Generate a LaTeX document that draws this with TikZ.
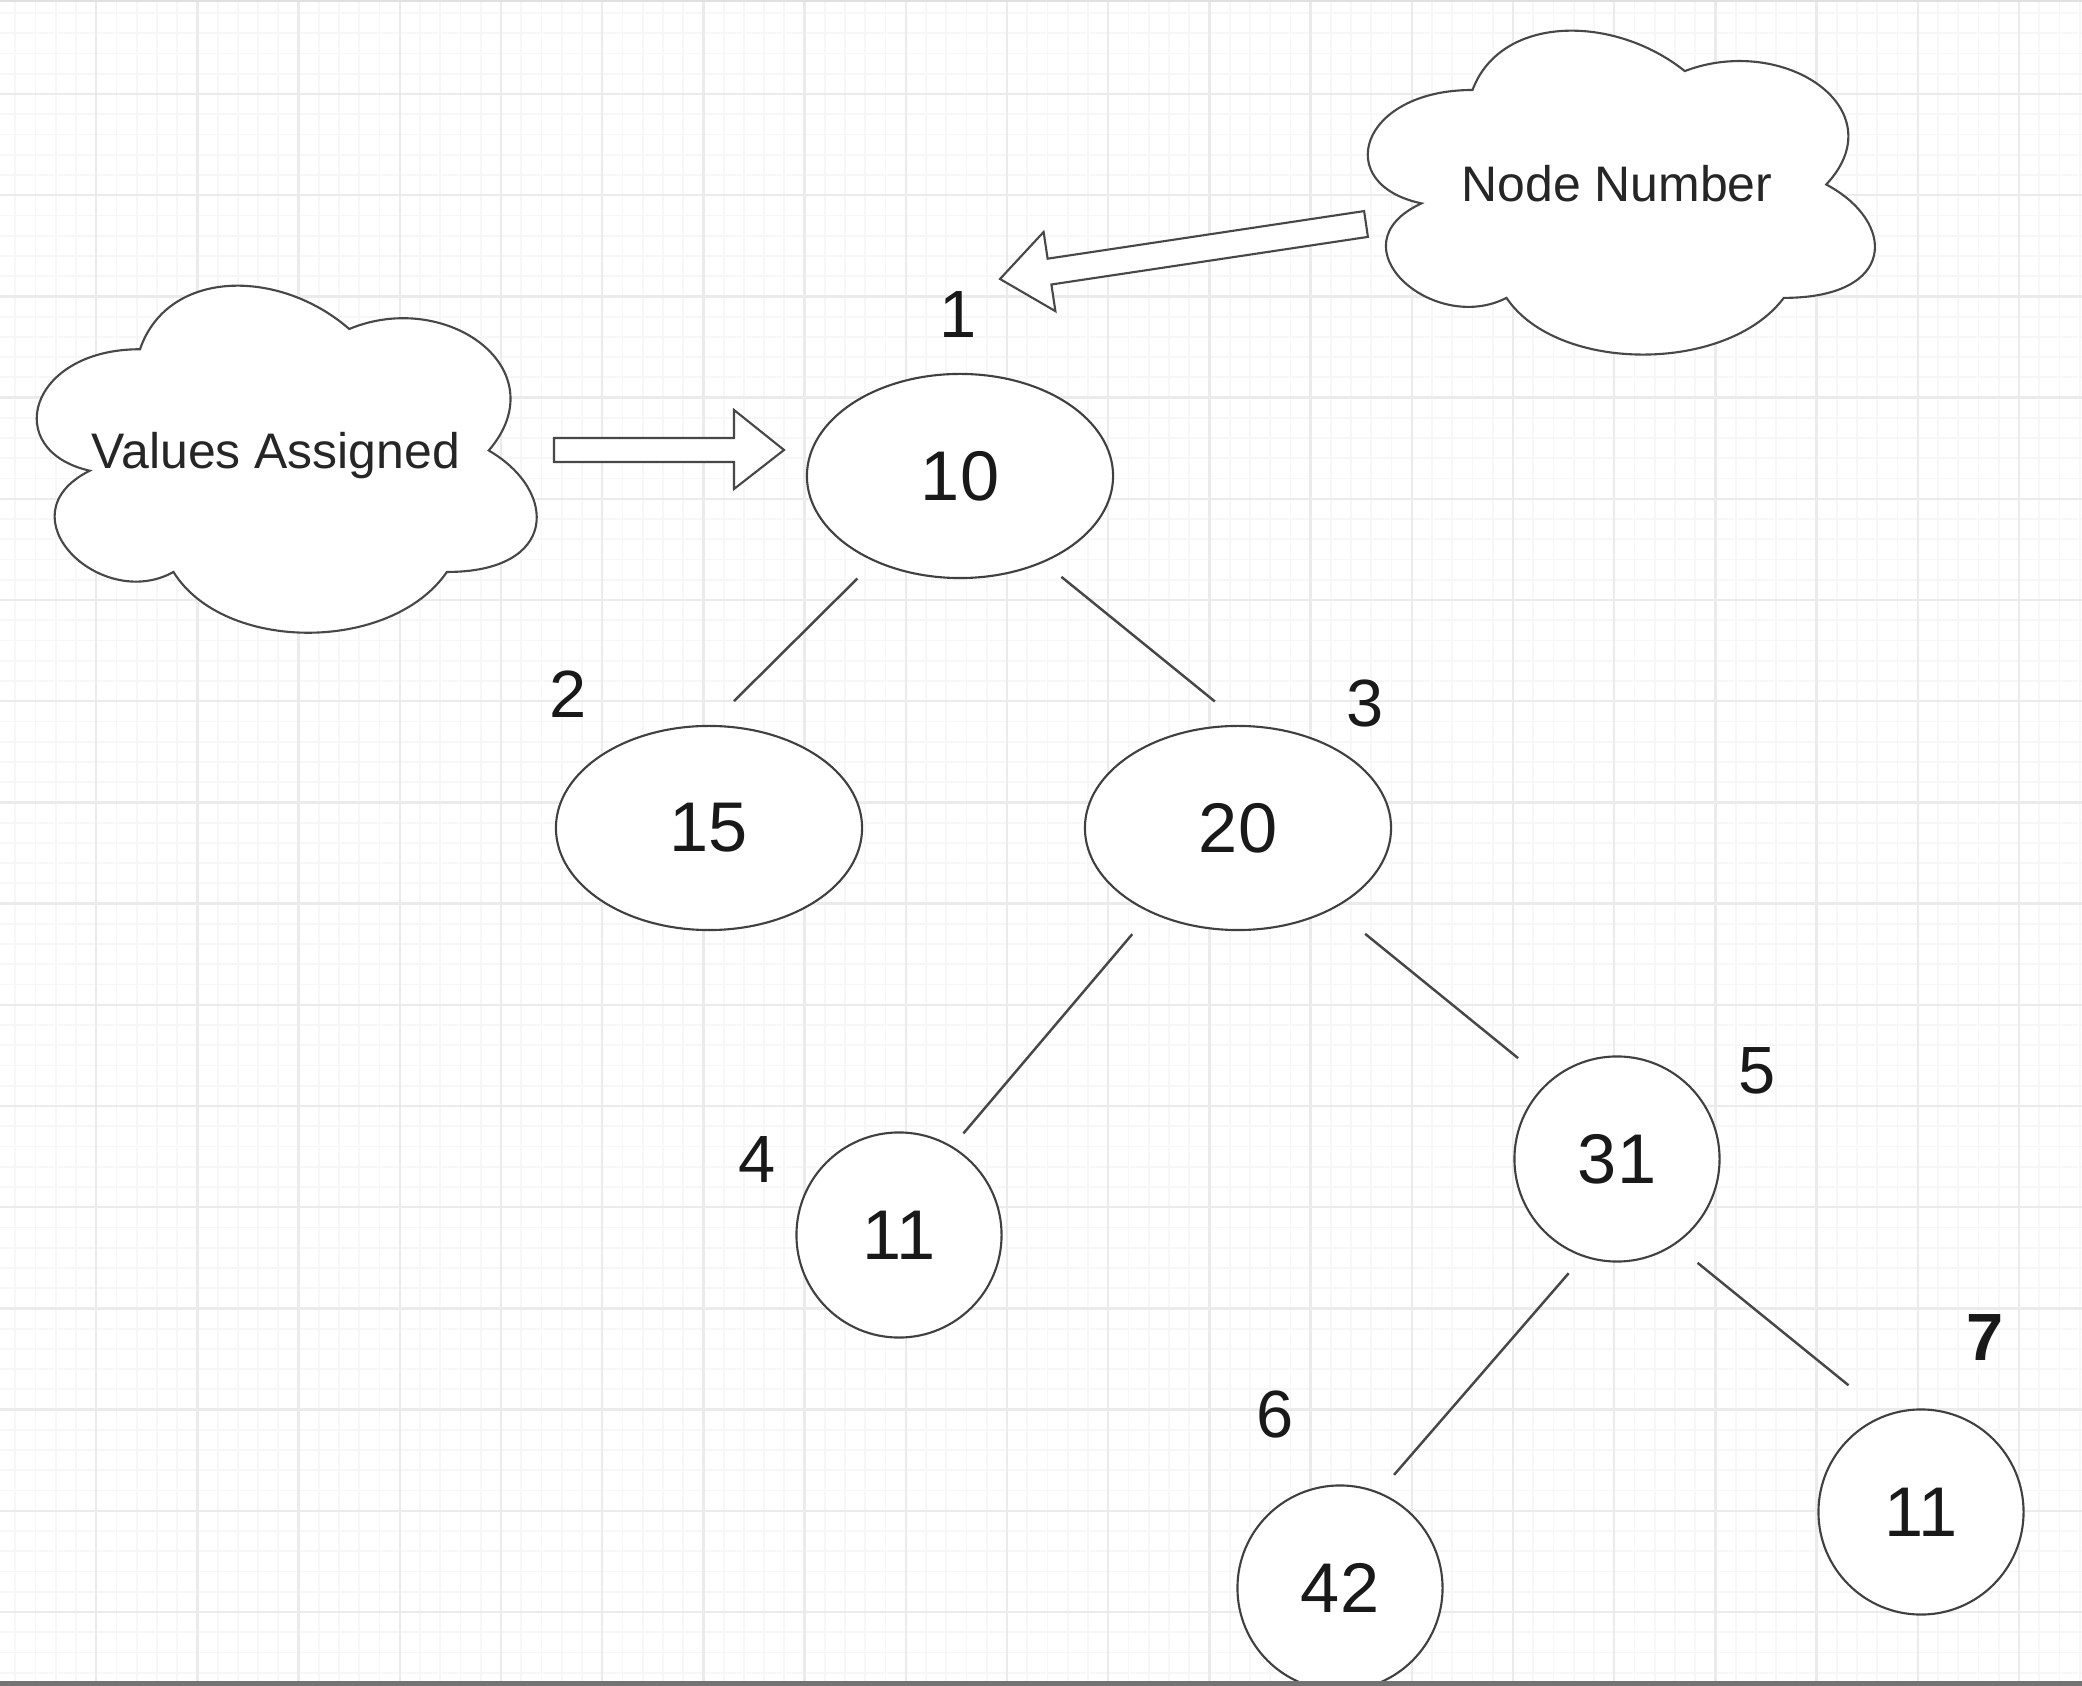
\documentclass[tikz,border=0pt]{standalone}
\usepackage{fontspec}
\setmainfont{Liberation Sans}
\usetikzlibrary{shapes.geometric}
\begin{document}
\begin{tikzpicture}[x=0.01cm,y=-0.01cm,
  minorgrid/.style={draw=black!3, line width=0.5pt},
  majorgrid/.style={draw=black!8, line width=0.7pt},
  treenode/.style={ellipse, draw=black!75, line width=0.6pt, fill=white,
    inner sep=0pt, outer sep=0pt, text=black!90, font=\fontsize{20}{24}\selectfont},
  bignode/.style={treenode, minimum width=3.06cm, minimum height=2.04cm},
  smallnode/.style={treenode, minimum width=2.05cm, minimum height=2.05cm},
  numlabel/.style={inner sep=0pt, text=black!90, font=\fontsize{19}{22}\selectfont},
  cloudtext/.style={inner sep=0pt, text=black!85, font=\fontsize{14.2}{17}\selectfont},
  shapeline/.style={draw=black!72, line width=0.6pt, fill=white, line join=miter},
  treeedge/.style={draw=black!72, line width=0.7pt}
]
\useasboundingbox (0,0) rectangle (2082,1686);
\fill[white] (0,0) rectangle (2082,1686);
% grid
\foreach \i in {0,...,103} \draw[minorgrid] ({-5+20.24*\i},0) -- ({-5+20.24*\i},1686);
\foreach \i in {0,...,84} \draw[minorgrid] (0,{-7.2+20.24*\i}) -- (2082,{-7.2+20.24*\i});
\foreach \i in {0,...,21} \draw[majorgrid] ({-5+101.2*\i},0) -- ({-5+101.2*\i},1686);
\foreach \i in {0,...,17} \draw[majorgrid] (0,{-7.2+101.2*\i}) -- (2082,{-7.2+101.2*\i});

% clouds (draw.io cloud outline)
\begin{scope}[shift={(0.5,248)}, xscale=558, yscale=405]
  \draw[shapeline] (0.25,0.25) .. controls (0.05,0.25) and (0,0.5) .. (0.16,0.55)
    .. controls (0,0.66) and (0.18,0.9) .. (0.31,0.8)
    .. controls (0.4,1) and (0.7,1) .. (0.8,0.8)
    .. controls (1,0.8) and (1,0.6) .. (0.875,0.5)
    .. controls (1,0.3) and (0.8,0.1) .. (0.625,0.2)
    .. controls (0.5,0.05) and (0.3,0.05) .. (0.25,0.25) -- cycle;
\end{scope}
\begin{scope}[shift={(1331,-4.5)}, xscale=566, yscale=378]
  \draw[shapeline] (0.25,0.25) .. controls (0.05,0.25) and (0,0.5) .. (0.16,0.55)
    .. controls (0,0.66) and (0.18,0.9) .. (0.31,0.8)
    .. controls (0.4,1) and (0.7,1) .. (0.8,0.8)
    .. controls (1,0.8) and (1,0.6) .. (0.875,0.5)
    .. controls (1,0.3) and (0.8,0.1) .. (0.625,0.2)
    .. controls (0.5,0.05) and (0.3,0.05) .. (0.25,0.25) -- cycle;
\end{scope}
\node[cloudtext, anchor=base] (vtext) at (276,469) {Values Assigned};
\node[cloudtext, anchor=base] (ntext) at (1617,202) {Node Number};

% block arrows
\draw[shapeline] (554,438) -- (734,438) -- (734,410) -- (784,450) -- (734,489) -- (734,462) -- (554,462) -- cycle;
\draw[shapeline] (1000,279) -- (1043.6,232) -- (1047.6,258.7) -- (1364.1,211.1) -- (1367.9,236.9) -- (1051.4,284.5) -- (1055.4,311.2) -- cycle;

% tree nodes
\node[bignode] (n10) at (960,476) {10};
\node[bignode] (n15) at (709,828) {15};
\node[bignode] (n20) at (1238,828) {20};
\node[smallnode] (n11a) at (899,1235) {11};
\node[smallnode] (n31) at (1617,1159) {31};
\node[smallnode] (n42) at (1340,1588) {42};
\node[smallnode] (n11b) at (1921,1512) {11};

% edges
\draw[treeedge, shorten <=7.1pt, shorten >=10pt] (n10.225) -- (n15.90);
\draw[treeedge, shorten <=6.8pt, shorten >=11.1pt] (n10.314.5) -- (n20.86.6);
\draw[treeedge, shorten <=8.25pt, shorten >=5.1pt] (n20.224.7) -- (n11a.59.4);
\draw[treeedge, shorten <=11.7pt, shorten >=11.1pt] (n20.320.7) -- (n31.132.2);
\draw[treeedge, shorten <=6.5pt, shorten >=6.8pt] (n31.251.2) -- (n42.68.7);
\draw[treeedge, shorten <=8.5pt, shorten >=13.7pt] (n31.304.6) -- (n11b.110.7);

% node number labels
\node[numlabel] (l1) at (958,315) {1};
\node[numlabel] (l2) at (568,694) {2};
\node[numlabel] (l3) at (1365,704) {3};
\node[numlabel] (l4) at (757,1160) {4};
\node[numlabel] (l5) at (1757,1071) {5};
\node[numlabel] (l6) at (1275,1414) {6};
\node[numlabel, font=\fontsize{19}{22}\selectfont\bfseries] (l7) at (1985,1338) {7};

% frame edges
\fill[black!12] (0,0) rectangle (2082,2);
\fill[black!55] (0,1681) rectangle (2082,1686);
\end{tikzpicture}
\end{document}
